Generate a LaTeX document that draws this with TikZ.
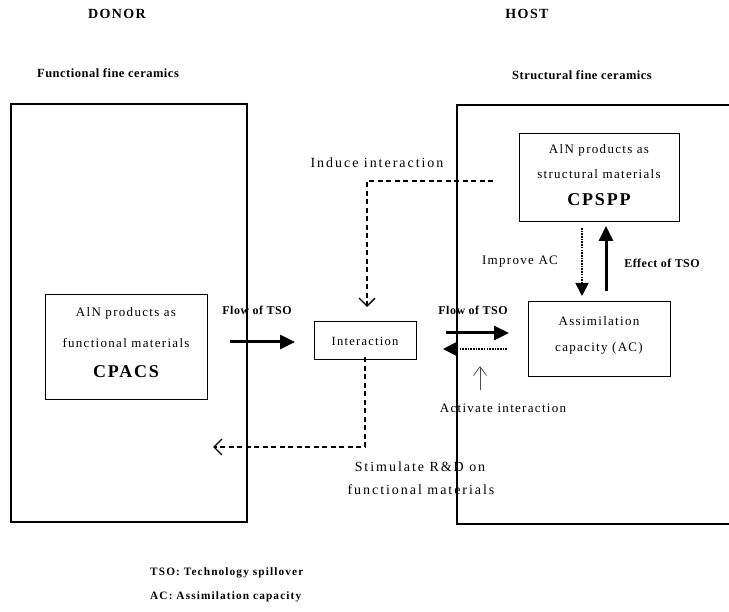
\documentclass[tikz,border=0pt]{standalone}
\usepackage{fontspec}
\setmainfont{Liberation Serif}[LetterSpace=10]
\newfontfamily\widefont{Liberation Serif}[LetterSpace=14]
\newfontfamily\tightfont{Liberation Serif}[LetterSpace=4]
\usetikzlibrary{arrows.meta}
\begin{document}
\begin{tikzpicture}[x=1pt,y=-1pt,
  bigbox/.style={draw,line width=1.1pt,inner sep=0pt},
  box/.style={draw,line width=1pt,inner sep=0pt},
  lab/.style={inner sep=0pt,font=\fontsize{13}{15}\selectfont},
  wlab/.style={inner sep=0pt,font=\widefont\fontsize{14}{16}\selectfont},
  blab/.style={inner sep=0pt,font=\tightfont\fontsize{12}{14}\selectfont\bfseries},
  big/.style={inner sep=0pt,font=\fontsize{18}{20}\selectfont\bfseries},
  title/.style={inner sep=0pt,font=\fontsize{14}{16}\selectfont\bfseries},
  subtitle/.style={inner sep=0pt,font=\tightfont\fontsize{12.5}{14}\selectfont\bfseries},
  legend/.style={inner sep=0pt,anchor=west,font=\fontsize{11.3}{13}\selectfont\bfseries},
  thickarrow/.style={line width=3pt,-{Triangle[length=15pt,width=14pt]}},
  dotarrow/.style={line width=1.8pt,dash pattern=on 1.6pt off 1.1pt,-{Triangle[length=13pt,width=13pt]}},
  dasharrow/.style={line width=1.1pt,dash pattern=on 5pt off 3.5pt,-{Straight Barb[length=8pt,width=16pt,line width=1.3pt]}},
  thinarrow/.style={line width=0.6pt,draw=black!70,-{Straight Barb[length=9pt,width=13pt,line width=0.7pt]}}
]
\useasboundingbox (0,0) rectangle (729,612);
\fill[white] (0,0) rectangle (729,612);

% titles
\node[title] (donor) at (117,14) {DONOR};
\node[title] (host) at (527,14) {HOST};
\node[subtitle] (func) at (108,73) {Functional fine ceramics};
\node[subtitle] (struc) at (582,75) {Structural fine ceramics};

% big boxes
\node[bigbox,minimum width=236pt,minimum height=418pt] (donorbox) at (129,313) {};
\coordinate (hTR) at (729,105);
\coordinate (hTL) at (457,105);
\coordinate (hBL) at (457,524);
\coordinate (hBR) at (729,524);
\draw[line width=1.1pt] (hTR) -- (hTL) -- (hBL) -- (hBR);

% inner boxes
\node[box,minimum width=162pt,minimum height=105pt] (cpacs) at (126,347.5) {};
\node[lab] (cpacs1) at (126,313) {AlN products as};
\node[lab] (cpacs2) at (126,343) {functional materials};
\node[big] (cpacs3) at (126,372) {CPACS};

\node[box,minimum width=102pt,minimum height=38pt,font=\fontsize{12.5}{14}\selectfont] (inter) at (365,341) {Interaction};

\node[box,minimum width=160pt,minimum height=88pt] (cpspp) at (599,178) {};
\node[lab] (cpspp1) at (599,150) {AlN products as};
\node[lab] (cpspp2) at (599,174) {structural materials};
\node[big] (cpspp3) at (599,200) {CPSPP};

\node[box,minimum width=142pt,minimum height=75pt] (ac) at (599,339.5) {};
\node[lab] (ac1) at (599,321) {Assimilation};
\node[lab] (ac2) at (599,348) {capacity (AC)};

% left flow of TSO
\coordinate (f1s) at (230,342);
\coordinate (f1e) at (295,342);
\draw[thickarrow] (f1s) -- (f1e);
\node[blab] (flow1) at (257,310) {Flow of TSO};

% induce interaction
\coordinate (ind0) at (493,181);
\coordinate (ind1) at (367,181);
\coordinate (ind2) at (367,307);
\draw[dasharrow] (ind0) -- (ind1) -- (ind2);
\node[wlab] (induce) at (377,163) {Induce interaction};

% stimulate R&D
\coordinate (st1) at (365,447);
\coordinate (st2) at (213,447);
\draw[dasharrow] ([yshift=3pt]inter.south) -- (st1) -- (st2);
\node[wlab] (stim1) at (420,467) {Stimulate R\&D on};
\node[wlab] (stim2) at (421,490) {functional materials};

% right flow of TSO
\coordinate (f2s) at (446,333);
\coordinate (f2e) at (509,333);
\draw[thickarrow] (f2s) -- (f2e);
\coordinate (f3s) at (507,349);
\coordinate (f3e) at (443,349);
\draw[dotarrow] (f3s) -- (f3e);
\node[blab] (flow2) at (473,310) {Flow of TSO};

% activate interaction
\coordinate (a1) at (480,390);
\coordinate (a2) at (480,366);
\draw[thinarrow] (a1) -- (a2);
\node[lab] (activate) at (503,408) {Activate interaction};

% improve AC / effect of TSO
\coordinate (im1) at (582,228);
\coordinate (im2) at (582,296);
\draw[dotarrow] (im1) -- (im2);
\node[lab] (improve) at (520,262) {Improve AC};
\coordinate (ef1) at (606,291);
\coordinate (ef2) at (606,226);
\draw[thickarrow] (ef1) -- (ef2);
\node[blab] (effect) at (662,263) {Effect of TSO};

% legend
\node[legend] (leg1) at (150,573) {TSO: Technology spillover};
\node[legend] (leg2) at (150,597) {AC: Assimilation capacity};
\end{tikzpicture}
\end{document}
